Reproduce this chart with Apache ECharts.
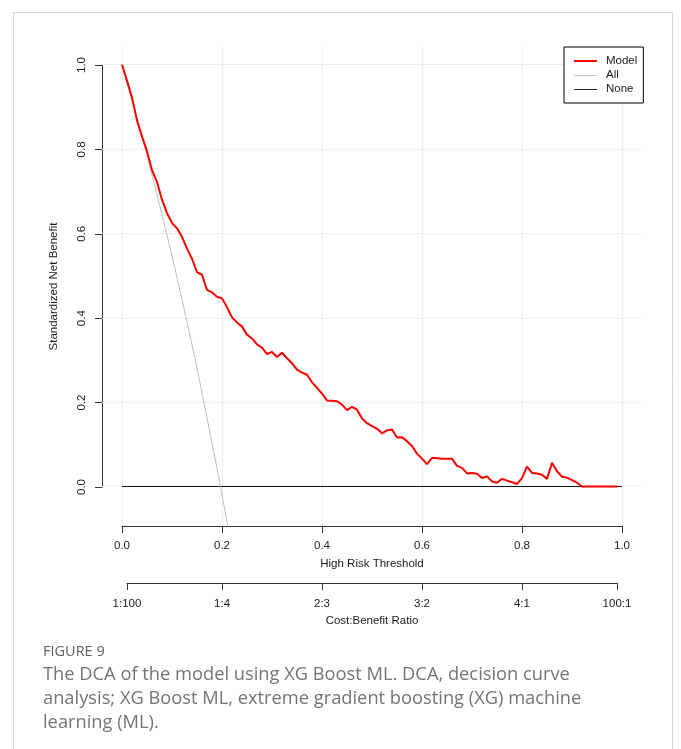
<!DOCTYPE html>
<html>
<head>
<meta charset="utf-8">
<title>Decision curve analysis – XG Boost ML</title>
<script src="https://cdn.jsdelivr.net/npm/echarts@6/dist/echarts.min.js"></script>
<style>
  html, body { margin: 0; padding: 0; background: #ffffff; }
  #chart { width: 681px; height: 749px; }
</style>
</head>
<body>
<div id="chart"></div>
<script>
// Threshold probabilities at which the decision curve was evaluated
const thresholds = [
  0.00, 0.01, 0.02, 0.03, 0.04, 0.05, 0.06, 0.07, 0.08, 0.09,
  0.10, 0.11, 0.12, 0.13, 0.14, 0.15, 0.16, 0.17, 0.18, 0.19,
  0.20, 0.21, 0.22, 0.23, 0.24, 0.25, 0.26, 0.27, 0.28, 0.29,
  0.30, 0.31, 0.32, 0.33, 0.34, 0.35, 0.36, 0.37, 0.38, 0.39,
  0.40, 0.41, 0.42, 0.43, 0.44, 0.45, 0.46, 0.47, 0.48, 0.49,
  0.50, 0.51, 0.52, 0.53, 0.54, 0.55, 0.56, 0.57, 0.58, 0.59,
  0.60, 0.61, 0.62, 0.63, 0.64, 0.65, 0.66, 0.67, 0.68, 0.69,
  0.70, 0.71, 0.72, 0.73, 0.74, 0.75, 0.76, 0.77, 0.78, 0.79,
  0.80, 0.81, 0.82, 0.83, 0.84, 0.85, 0.86, 0.87, 0.88, 0.89,
  0.90, 0.91, 0.92, 0.93, 0.94, 0.95, 0.96, 0.97, 0.98, 0.99
];

// Standardized net benefit of the XG Boost model
const modelNB = [
  1.000, 0.962, 0.922, 0.868, 0.830, 0.795, 0.750, 0.722, 0.680, 0.648,
  0.625, 0.612, 0.592, 0.564, 0.540, 0.508, 0.502, 0.466, 0.460, 0.450,
  0.446, 0.425, 0.401, 0.389, 0.379, 0.360, 0.351, 0.337, 0.329, 0.314,
  0.319, 0.307, 0.317, 0.304, 0.292, 0.277, 0.270, 0.265, 0.247, 0.234,
  0.220, 0.204, 0.203, 0.202, 0.194, 0.181, 0.189, 0.182, 0.161, 0.150,
  0.143, 0.137, 0.126, 0.133, 0.135, 0.116, 0.117, 0.107, 0.096, 0.078,
  0.066, 0.053, 0.068, 0.067, 0.066, 0.066, 0.066, 0.049, 0.044, 0.031,
  0.032, 0.030, 0.020, 0.024, 0.012, 0.009, 0.018, 0.014, 0.010, 0.006,
  0.020, 0.047, 0.032, 0.031, 0.028, 0.018, 0.056, 0.036, 0.023, 0.021,
  0.015, 0.009, 0.000, 0.000, 0.000, 0.000, 0.000, 0.000, 0.000, 0.000
];

// "Treat all" strategy
const allThreshold = [0.00, 0.05, 0.10, 0.15, 0.20, 0.22];
const allNB        = [1.000, 0.785, 0.547, 0.281, -0.019, -0.150];

// "Treat none" strategy
const noneThreshold = [0.00, 1.00];
const noneNB        = [0.00, 0.00];

// Axis ticks
const xTicks = [0.0, 0.2, 0.4, 0.6, 0.8, 1.0];
const yTicks = [0.0, 0.2, 0.4, 0.6, 0.8, 1.0];
const ratioTicks  = [0.0099, 0.2, 0.4, 0.6, 0.8, 0.9901];
const ratioLabels = ['1:100', '1:4', '2:3', '3:2', '4:1', '100:1'];

// Caption
const captionTitle = 'FIGURE 9';
const captionLines = [
  'The DCA of the model using XG Boost ML. DCA, decision curve',
  'analysis; XG Boost ML, extreme gradient boosting (XG) machine',
  'learning (ML).'
];

const pairs = (xs, ys) => xs.map((x, i) => [x, ys[i]]);

const FONT = '"Liberation Sans", Arial, sans-serif';
const CAPTION_FONT = '"Open Sans", "Noto Sans", sans-serif';
const AXIS_COLOR = '#333333';
const TEXT_COLOR = '#1a1a1a';
const GRID_COLOR = '#ececec';

// flat legend keys: a bar centred in a 23x14 box
const KEY_THIN  = 'path://M0,0 L0,0 M0,7 L23,7 L23,8 L0,8 Z M23,14 L23,14';
const KEY_THICK = 'path://M0,0 L0,0 M0,6 L23,6 L23,8 L0,8 Z M23,14 L23,14';

const chart = echarts.init(document.getElementById('chart'), null, { renderer: 'canvas' });

const option = {
  animation: false,
  backgroundColor: '#ffffff',
  textStyle: { fontFamily: FONT },
  grid: [
    // full plotting region
    { left: 102, top: 47, width: 540, height: 479 },
    // threshold range 0..1 on both axes
    { left: 122, top: 65, width: 500, height: 422 },
    // cost:benefit ratio scale
    { left: 127, top: 65, width: 490, height: 422 }
  ],
  xAxis: [
    { gridIndex: 0, type: 'value', min: -0.04, max: 1.04, show: false },
    {
      gridIndex: 1, type: 'value', min: 0, max: 1, interval: 0.2,
      position: 'bottom', offset: 39,
      axisLine: { show: true, onZero: false, lineStyle: { color: AXIS_COLOR, width: 1 } },
      axisTick: { show: true, length: 7, lineStyle: { color: AXIS_COLOR } },
      axisLabel: {
        margin: 14, fontSize: 11.5, color: TEXT_COLOR, fontFamily: FONT,
        formatter: v => v.toFixed(1)
      },
      splitLine: { show: false },
      name: 'High Risk Threshold', nameLocation: 'middle', nameGap: 32,
      nameTextStyle: { fontSize: 11.5, color: TEXT_COLOR, fontFamily: FONT }
    },
    {
      gridIndex: 2, type: 'value', min: ratioTicks[0], max: ratioTicks[ratioTicks.length - 1],
      position: 'bottom', offset: 96,
      axisLine: { show: true, onZero: false, lineStyle: { color: AXIS_COLOR, width: 1 } },
      axisTick: { show: true, length: 7, customValues: ratioTicks, lineStyle: { color: AXIS_COLOR } },
      axisLabel: {
        margin: 15, fontSize: 11.5, color: TEXT_COLOR, fontFamily: FONT,
        customValues: ratioTicks,
        formatter: v => {
          const i = ratioTicks.findIndex(t => Math.abs(t - v) < 1e-6);
          return i >= 0 ? ratioLabels[i] : '';
        }
      },
      splitLine: { show: false },
      name: 'Cost:Benefit Ratio', nameLocation: 'middle', nameGap: 29,
      nameTextStyle: { fontSize: 11.5, color: TEXT_COLOR, fontFamily: FONT }
    }
  ],
  yAxis: [
    {
      gridIndex: 0, type: 'value', min: -0.0937, max: 1.042,
      axisLine: { show: false, onZero: false }, axisTick: { show: false },
      axisLabel: { show: false }, splitLine: { show: false },
      name: 'Standardized Net Benefit', nameLocation: 'middle', nameGap: 42,
      nameTextStyle: { fontSize: 11.5, color: TEXT_COLOR, fontFamily: FONT }
    },
    {
      gridIndex: 1, type: 'value', min: 0, max: 1, interval: 0.2,
      position: 'left', offset: 20,
      axisLine: { show: true, onZero: false, lineStyle: { color: AXIS_COLOR, width: 1 } },
      axisTick: { show: true, length: 7, lineStyle: { color: AXIS_COLOR } },
      axisLabel: {
        margin: 14, rotate: 90, fontSize: 11.5, color: TEXT_COLOR, fontFamily: FONT,
        formatter: v => v.toFixed(1)
      },
      splitLine: { show: false }
    },
    { gridIndex: 2, type: 'value', min: 0, max: 1, show: false }
  ],
  legend: {
    data: [
      { name: 'Model', icon: KEY_THICK },
      { name: 'All', icon: KEY_THIN },
      { name: 'None', icon: KEY_THIN }
    ],
    orient: 'vertical',
    left: 564, top: 47, z: 30,
    padding: [7, 6, 7, 10],
    itemWidth: 23, itemHeight: 14, itemGap: 0,
    borderColor: '#000000', borderWidth: 1, borderRadius: 0,
    backgroundColor: '#ffffff',
    selectedMode: false,
    textStyle: { fontSize: 11.5, color: TEXT_COLOR, fontFamily: FONT, lineHeight: 14, padding: [0, 0, 0, 4] }
  },
  series: [
    {
      // light reference grid
      name: 'gridlines', type: 'line', xAxisIndex: 0, yAxisIndex: 0,
      data: [], silent: true, z: 1,
      markLine: {
        z: 1, silent: true, symbol: ['none', 'none'], animation: false,
        label: { show: false },
        lineStyle: { color: GRID_COLOR, width: 1, type: 'solid' },
        emphasis: { disabled: true },
        data: xTicks.map(v => ({ xAxis: v })).concat(yTicks.map(v => ({ yAxis: v })))
      }
    },
    {
      name: 'None', type: 'line', xAxisIndex: 0, yAxisIndex: 0,
      data: pairs(noneThreshold, noneNB),
      symbol: 'none', clip: true, z: 10,
      lineStyle: { color: '#111111', width: 1 }, itemStyle: { color: '#222222' }
    },
    {
      name: 'All', type: 'line', xAxisIndex: 0, yAxisIndex: 0,
      data: pairs(allThreshold, allNB),
      symbol: 'none', clip: true, z: 11, smooth: 0.2,
      lineStyle: { color: '#bdbdbd', width: 1 }, itemStyle: { color: '#c4c4c4' }
    },
    {
      name: 'Model', type: 'line', xAxisIndex: 0, yAxisIndex: 0,
      data: pairs(thresholds, modelNB),
      symbol: 'none', clip: true, z: 12,
      lineStyle: { color: '#ff0000', width: 2 }, itemStyle: { color: '#ff0000' }
    }
  ],
  graphic: [
    {
      type: 'polyline', silent: true, z: 0,
      shape: { points: [[13.5, 749], [13.5, 12.5], [672.5, 12.5], [672.5, 749]] },
      style: { stroke: '#d5d5d5', lineWidth: 1, fill: null }
    },
    {
      type: 'text', x: 43, y: 652, silent: true,
      style: {
        text: captionTitle, fill: '#5f5f5f', verticalAlign: 'middle',
        font: '14.5px ' + CAPTION_FONT
      }
    }
  ].concat(captionLines.map((line, i) => ({
    type: 'text', x: 43, y: 675 + i * 23.7, silent: true,
    style: {
      text: line, fill: '#747474', verticalAlign: 'middle',
      font: '18.3px ' + CAPTION_FONT
    }
  })))
};

chart.setOption(option);
</script>
</body>
</html>
